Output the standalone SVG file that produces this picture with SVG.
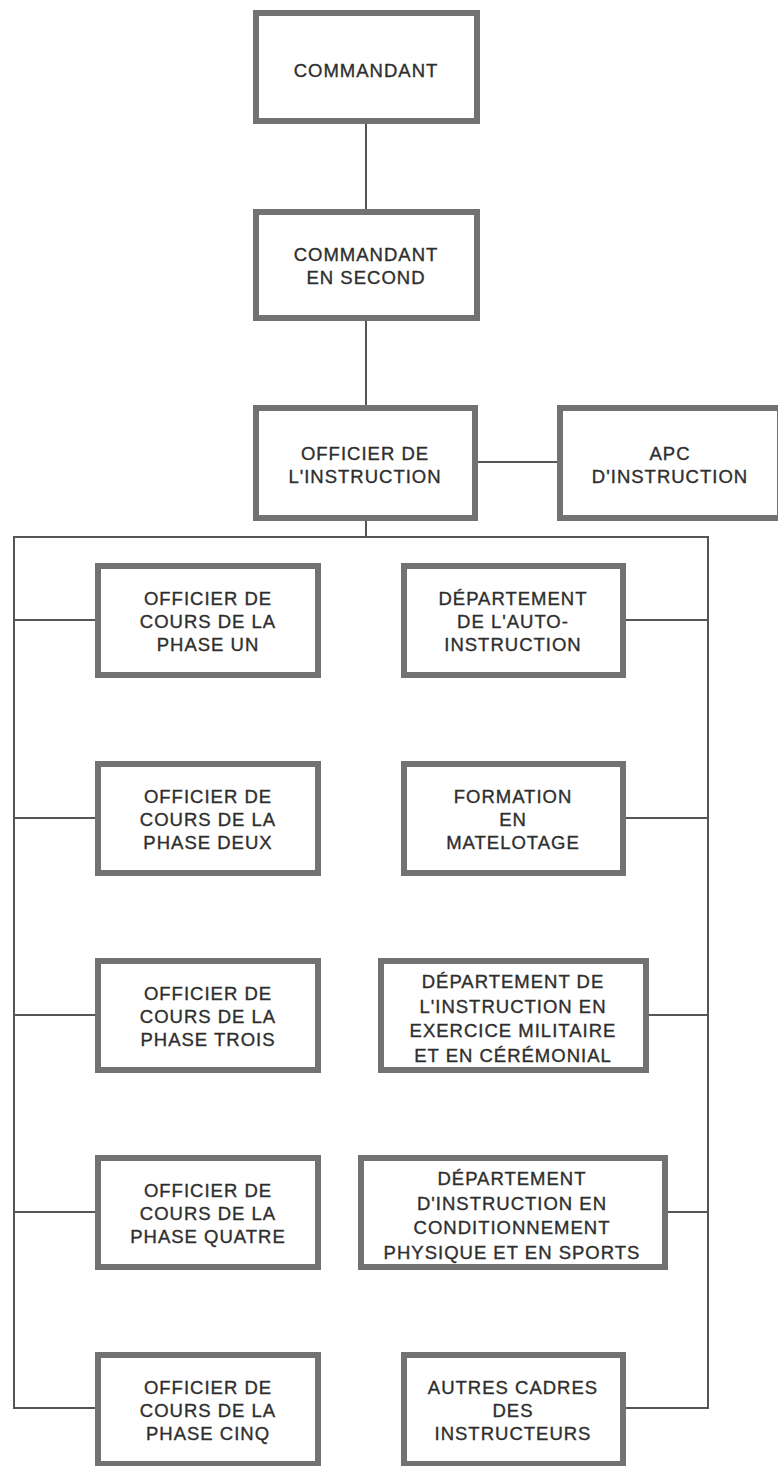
<svg xmlns="http://www.w3.org/2000/svg" width="778" height="1466" viewBox="0 0 778 1466">
<style>
.box{fill:#fff;stroke:#727272;stroke-width:6}
.t{font-family:"Liberation Sans",Arial,sans-serif;font-size:18.5px;letter-spacing:1px;fill:#2e2e2e;stroke:#2e2e2e;stroke-width:0.35;text-anchor:middle}
.c{stroke:#555;stroke-width:2;fill:none}
</style>
<rect width="778" height="1466" fill="#fff"/>
<g id="connectors">
<line class="c" x1="366" y1="123" x2="366" y2="210"/>
<line class="c" x1="366" y1="320" x2="366" y2="405"/>
<line class="c" x1="366" y1="520" x2="366" y2="537"/>
<line class="c" x1="477" y1="462" x2="557" y2="462"/>
<polyline class="c" points="95,1408 14,1408 14,537 708,537 708,1408 625,1408"/>
<line class="c" x1="14" y1="620" x2="95" y2="620"/>
<line class="c" x1="14" y1="818" x2="95" y2="818"/>
<line class="c" x1="14" y1="1015" x2="95" y2="1015"/>
<line class="c" x1="14" y1="1212" x2="95" y2="1212"/>
<line class="c" x1="625" y1="620" x2="708" y2="620"/>
<line class="c" x1="625" y1="818" x2="708" y2="818"/>
<line class="c" x1="648" y1="1015" x2="708" y2="1015"/>
<line class="c" x1="667" y1="1212" x2="708" y2="1212"/>
</g>
<g id="commandant"><rect class="box" x="256" y="13" width="221" height="108"/><text class="t" x="366" y="77">COMMANDANT</text></g>
<g id="commandant-second"><rect class="box" x="256" y="212" width="221" height="106"/><text class="t" x="366" y="261">COMMANDANT</text><text class="t" x="366" y="284">EN SECOND</text></g>
<g id="officier-instruction"><rect class="box" x="256" y="408" width="219" height="110"/><text class="t" x="365" y="460">OFFICIER DE</text><text class="t" x="365" y="483">L'INSTRUCTION</text></g>
<g id="apc"><rect class="box" x="560" y="408" width="220" height="110"/><text class="t" x="670" y="460">APC</text><text class="t" x="670" y="483">D'INSTRUCTION</text></g>
<g id="phase-un"><rect class="box" x="98" y="566" width="220" height="109"/><text class="t" x="208" y="605">OFFICIER DE</text><text class="t" x="208" y="628">COURS DE LA</text><text class="t" x="208" y="651">PHASE UN</text></g>
<g id="auto-instruction"><rect class="box" x="404" y="566" width="219" height="109"/><text class="t" x="513" y="605">DÉPARTEMENT</text><text class="t" x="513" y="628">DE L'AUTO-</text><text class="t" x="513" y="651">INSTRUCTION</text></g>
<g id="phase-deux"><rect class="box" x="98" y="764" width="220" height="109"/><text class="t" x="208" y="803">OFFICIER DE</text><text class="t" x="208" y="826">COURS DE LA</text><text class="t" x="208" y="849">PHASE DEUX</text></g>
<g id="matelotage"><rect class="box" x="404" y="764" width="219" height="109"/><text class="t" x="513" y="803">FORMATION</text><text class="t" x="513" y="826">EN</text><text class="t" x="513" y="849">MATELOTAGE</text></g>
<g id="phase-trois"><rect class="box" x="98" y="961" width="220" height="109"/><text class="t" x="208" y="1000">OFFICIER DE</text><text class="t" x="208" y="1023">COURS DE LA</text><text class="t" x="208" y="1046">PHASE TROIS</text></g>
<g id="exercice-militaire"><rect class="box" x="381" y="961" width="265" height="109"/><text class="t" x="513" y="988">DÉPARTEMENT DE</text><text class="t" x="513" y="1012.5">L'INSTRUCTION EN</text><text class="t" x="513" y="1037">EXERCICE MILITAIRE</text><text class="t" x="513" y="1061.5">ET EN CÉRÉMONIAL</text></g>
<g id="phase-quatre"><rect class="box" x="98" y="1158" width="220" height="109"/><text class="t" x="208" y="1197">OFFICIER DE</text><text class="t" x="208" y="1220">COURS DE LA</text><text class="t" x="208" y="1243">PHASE QUATRE</text></g>
<g id="conditionnement"><rect class="box" x="361" y="1158" width="304" height="109"/><text class="t" x="512" y="1185">DÉPARTEMENT</text><text class="t" x="512" y="1209.5">D'INSTRUCTION EN</text><text class="t" x="512" y="1234">CONDITIONNEMENT</text><text class="t" x="512" y="1258.5">PHYSIQUE ET EN SPORTS</text></g>
<g id="phase-cinq"><rect class="box" x="98" y="1355" width="220" height="109"/><text class="t" x="208" y="1394">OFFICIER DE</text><text class="t" x="208" y="1417">COURS DE LA</text><text class="t" x="208" y="1440">PHASE CINQ</text></g>
<g id="autres-cadres"><rect class="box" x="404" y="1355" width="219" height="109"/><text class="t" x="513" y="1394">AUTRES CADRES</text><text class="t" x="513" y="1417">DES</text><text class="t" x="513" y="1440">INSTRUCTEURS</text></g>
</svg>
